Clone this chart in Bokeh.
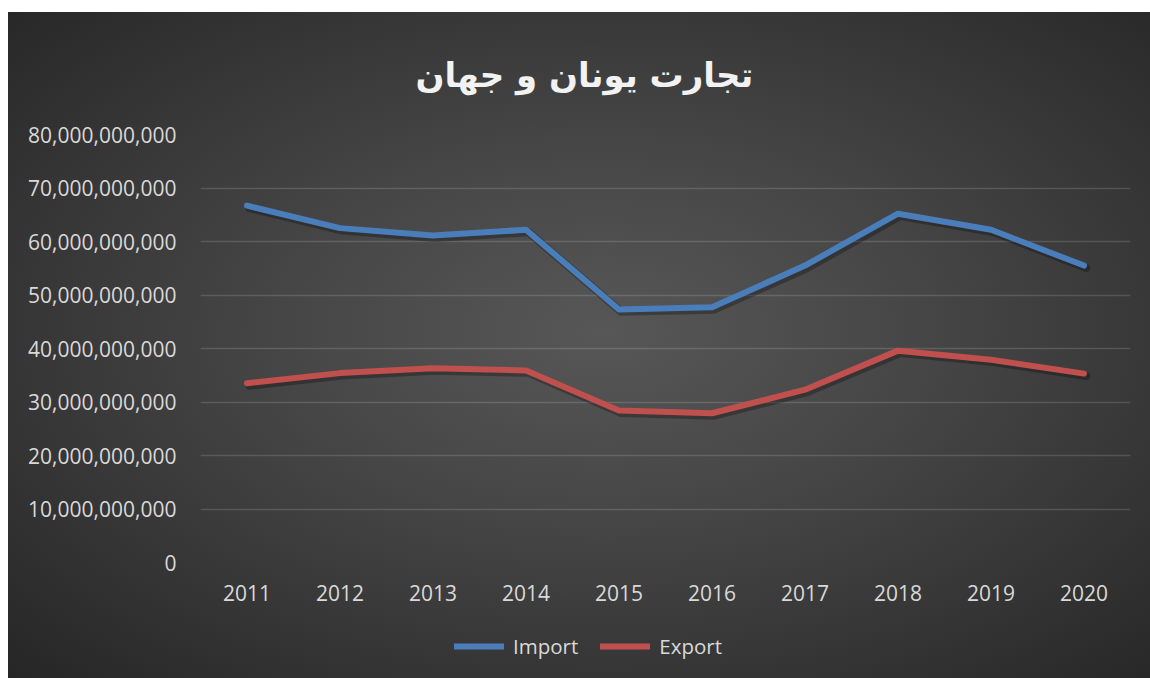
from bokeh.plotting import figure
from bokeh.embed import file_html
from bokeh.resources import INLINE
from bokeh.layouts import column
from bokeh.transform import dodge
from bokeh.models import (FactorRange, Range1d, FixedTicker, NumeralTickFormatter,
                          Legend, LegendItem, Title, ColumnDataSource)

years = ["2011", "2012", "2013", "2014", "2015", "2016", "2017", "2018", "2019", "2020"]
import_vals = [66.7e9, 62.5e9, 61.1e9, 62.2e9, 47.3e9, 47.7e9, 55.5e9, 65.2e9, 62.2e9, 55.5e9]
export_vals = [33.5e9, 35.4e9, 36.3e9, 35.9e9, 28.4e9, 27.9e9, 32.3e9, 39.6e9, 37.9e9, 35.3e9]
y_ticks = [0, 10e9, 20e9, 30e9, 40e9, 50e9, 60e9, 70e9, 80e9]
title_text = "تجارت یونان و جهان"
series_names = ["Import", "Export"]

src = ColumnDataSource(dict(year=years, imp=import_vals, exp=export_vals))

text_col = "#d9d9d9"
font = "Open Sans"
blue = "#4a7ebb"
red = "#c0504d"

p = figure(width=1142, height=600, output_backend="svg", toolbar_location=None,
           x_range=FactorRange(*years, range_padding=0), y_range=Range1d(0, 80e9),
           min_border_left=192, min_border_right=20, min_border_top=122, min_border_bottom=50)
p.background_fill_color = None
p.border_fill_color = None
p.outline_line_color = None

p.yaxis.ticker = FixedTicker(ticks=y_ticks)
p.yaxis.formatter = NumeralTickFormatter(format="0,0")
for ax in (p.xaxis[0], p.yaxis[0]):
    ax.axis_line_color = None
    ax.major_tick_line_color = None
    ax.minor_tick_line_color = None
    ax.major_label_text_color = text_col
    ax.major_label_text_font = font
    ax.major_label_text_font_size = "21px"
p.yaxis.major_label_standoff = 18
p.xaxis.major_label_standoff = 16

p.xgrid.grid_line_color = None
p.ygrid.grid_line_color = "#ffffff"
p.ygrid.grid_line_alpha = 0.14
p.ygrid.grid_line_width = 1.5

# soft shadows under the lines
for col in ("imp", "exp"):
    p.line(dodge("year", 0.025, range=p.x_range), dodge(col, -0.45e9), source=src,
           line_color="#000000", line_alpha=0.28, line_width=8,
           line_cap="round", line_join="round")

r1 = p.line("year", "imp", source=src, line_color=blue, line_width=6,
            line_cap="round", line_join="round")
r2 = p.line("year", "exp", source=src, line_color=red, line_width=6,
            line_cap="round", line_join="round")

t = Title(text=title_text, align="left", offset=215, standoff=80,
          text_font="DejaVu Sans", text_font_style="bold",
          text_font_size="34px", text_color="#f2f2f2")
p.add_layout(t, "above")

# legend strip below the chart
q = figure(width=1142, height=66, output_backend="svg", toolbar_location=None,
           x_range=FactorRange(*years), y_range=Range1d(0, 1),
           x_axis_type=None, y_axis_type=None,
           min_border=0, min_border_left=0, min_border_right=0,
           min_border_top=0, min_border_bottom=0)
q.background_fill_color = None
q.border_fill_color = None
q.outline_line_color = None
q.grid.visible = False
l1 = q.line("year", "imp", source=src, line_color=blue, line_width=6, line_cap="round")
l2 = q.line("year", "exp", source=src, line_color=red, line_width=6, line_cap="round")

legend = Legend(items=[LegendItem(label=series_names[0], renderers=[l1]),
                       LegendItem(label=series_names[1], renderers=[l2])],
                orientation="horizontal", location=(254, 18),
                background_fill_alpha=0, border_line_color=None,
                label_text_color=text_col, label_text_font=font, label_text_font_size="20.5px",
                glyph_width=50, label_standoff=9, spacing=22, margin=0, padding=6)
q.add_layout(legend, "center")

layout = column(p, q, spacing=0)
layout.styles = {"background-image": "radial-gradient(ellipse at 52% 48%, #575757 0%, #454545 40%, #262626 100%)",
                 "margin-top": "12px", "margin-left": "8px"}

open("out.html", "w").write(file_html(layout, INLINE))
